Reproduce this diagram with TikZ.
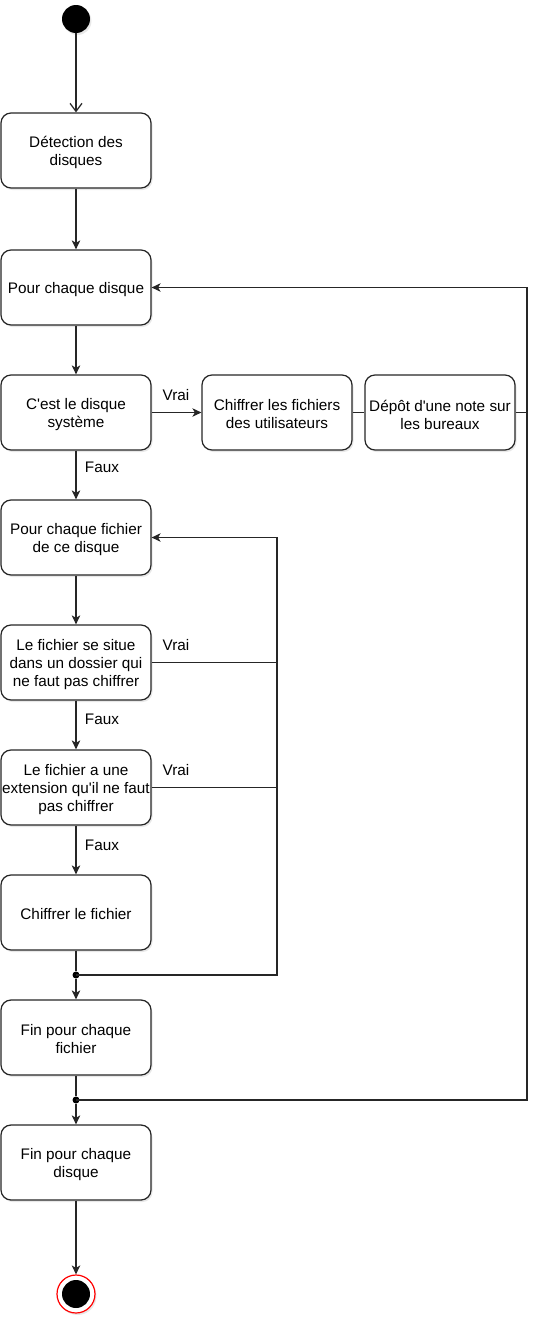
\documentclass[tikz,border=0pt]{standalone}
\usepackage{fontspec}
\setmainfont{Liberation Sans}
\usetikzlibrary{arrows.meta,shadows}
\begin{document}
\begin{tikzpicture}[x=1pt,y=-1pt,
  font=\fontsize{15.3}{18}\selectfont,
  lw/.style={line width=1.25pt, draw=black!85},
  act/.style={lw, rounded corners=10pt, fill=white, minimum width=150pt, minimum height=75pt,
    inner sep=1pt,
    drop shadow={shadow xshift=1.5pt,shadow yshift=-2pt,opacity=0.18}},
  txt/.style={align=center, inner sep=0pt, yshift=-2pt},
  flow/.style={lw, -{Stealth[length=9pt,width=8.5pt,inset=2.5pt]}},
  openflow/.style={lw, -{Straight Barb[length=8pt,width=12pt]}},
  line/.style={lw},
  lbl/.style={inner sep=0pt},
  junction/.style={circle, fill=black, inner sep=0pt, minimum size=7pt}
]
\useasboundingbox (0,0) rectangle (552,1328);

\node[circle, fill=black, minimum size=28pt, inner sep=0pt,
  drop shadow={shadow xshift=1.5pt,shadow yshift=-2pt,opacity=0.18}] (start) at (76,19) {};

\node[act] (n1) at (76,150.5) {};
\node[act] (n2) at (76,287.5) {};
\node[act] (n3) at (76,412.5) {};
\node[act] (nC) at (277,412.5) {};
\node[act] (nD) at (440,412.5) {};
\node[act] (n4) at (76,537.5) {};
\node[act] (n5) at (76,662.5) {};
\node[act] (n6) at (76,787.5) {};
\node[act] (n7) at (76,912.5) {};
\node[act] (n8) at (76,1037.5) {};
\node[act] (n9) at (76,1162.5) {};

\node[txt] (t1) at (n1.center) {Détection des\\disques};
\node[txt] (t2) at (n2.center) {Pour chaque disque};
\node[txt] (t3) at (n3.center) {C\textquotesingle est le disque\\système};
\node[txt] (tC) at (nC.center) {Chiffrer les fichiers\\des utilisateurs};
\node[txt] (tD) at (nD.center) {Dépôt d\textquotesingle une note sur\\les bureaux};
\node[txt] (t4) at (n4.center) {Pour chaque fichier\\de ce disque};
\node[txt] (t5) at (n5.center) {Le fichier se situe\\dans un dossier qui\\ne faut pas chiffrer};
\node[txt] (t6) at (n6.center) {Le fichier a une\\extension qu\textquotesingle il ne faut\\pas chiffrer};
\node[txt] (t7) at (n7.center) {Chiffrer le fichier};
\node[txt] (t8) at (n8.center) {Fin pour chaque\\fichier};
\node[txt] (t9) at (n9.center) {Fin pour chaque\\disque};

\node[circle, draw=red, line width=1.2pt, fill=white, minimum size=38pt, inner sep=0pt,
  drop shadow={shadow xshift=1.5pt,shadow yshift=-2pt,opacity=0.18}] (endo) at (76,1294) {};
\node[circle, fill=black, minimum size=28pt, inner sep=0pt] (endi) at (76,1294) {};

\node[junction] (d1) at (76,975) {};
\node[junction] (d2) at (76,1100) {};

\coordinate (r1b) at (277,975);
\coordinate (r1t) at (277,537.5);
\coordinate (v5) at (277,662.5);
\coordinate (v6) at (277,787.5);
\coordinate (Rb) at (527,1100);
\coordinate (Rt) at (527,287.5);
\coordinate (Rm) at (527,412.5);

\draw[openflow] (start) -- (n1);
\draw[flow] (n1) -- (n2);
\draw[flow] (n2) -- (n3);
\draw[flow] (n3) -- (nC);
\draw[line] (nC) -- (nD);
\draw[line] (nD) -- (Rm);
\draw[flow] (n3) -- (n4);
\draw[flow] (n4) -- (n5);
\draw[flow] (n5) -- (n6);
\draw[flow] (n6) -- (n7);
\draw[line] (n7) -- (d1);
\draw[flow] (d1) -- (n8);
\draw[line] (n8) -- (d2);
\draw[flow] (d2) -- (n9);
\draw[flow] (n9) -- (endo);

\draw[flow] (d1.center) -- (r1b) -- (r1t) -- (n4.east);
\draw[line] (n5.east) -- (v5);
\draw[line] (n6.east) -- (v6);
\draw[flow] (d2.center) -- (Rb) -- (Rt) -- (n2.east);

\node[lbl] (l1) at (176,395) {Vrai};
\node[lbl] (l2) at (102,467) {Faux};
\node[lbl] (l3) at (176,645) {Vrai};
\node[lbl] (l4) at (102,719) {Faux};
\node[lbl] (l5) at (176,770) {Vrai};
\node[lbl] (l6) at (102,845) {Faux};
\end{tikzpicture}
\end{document}
